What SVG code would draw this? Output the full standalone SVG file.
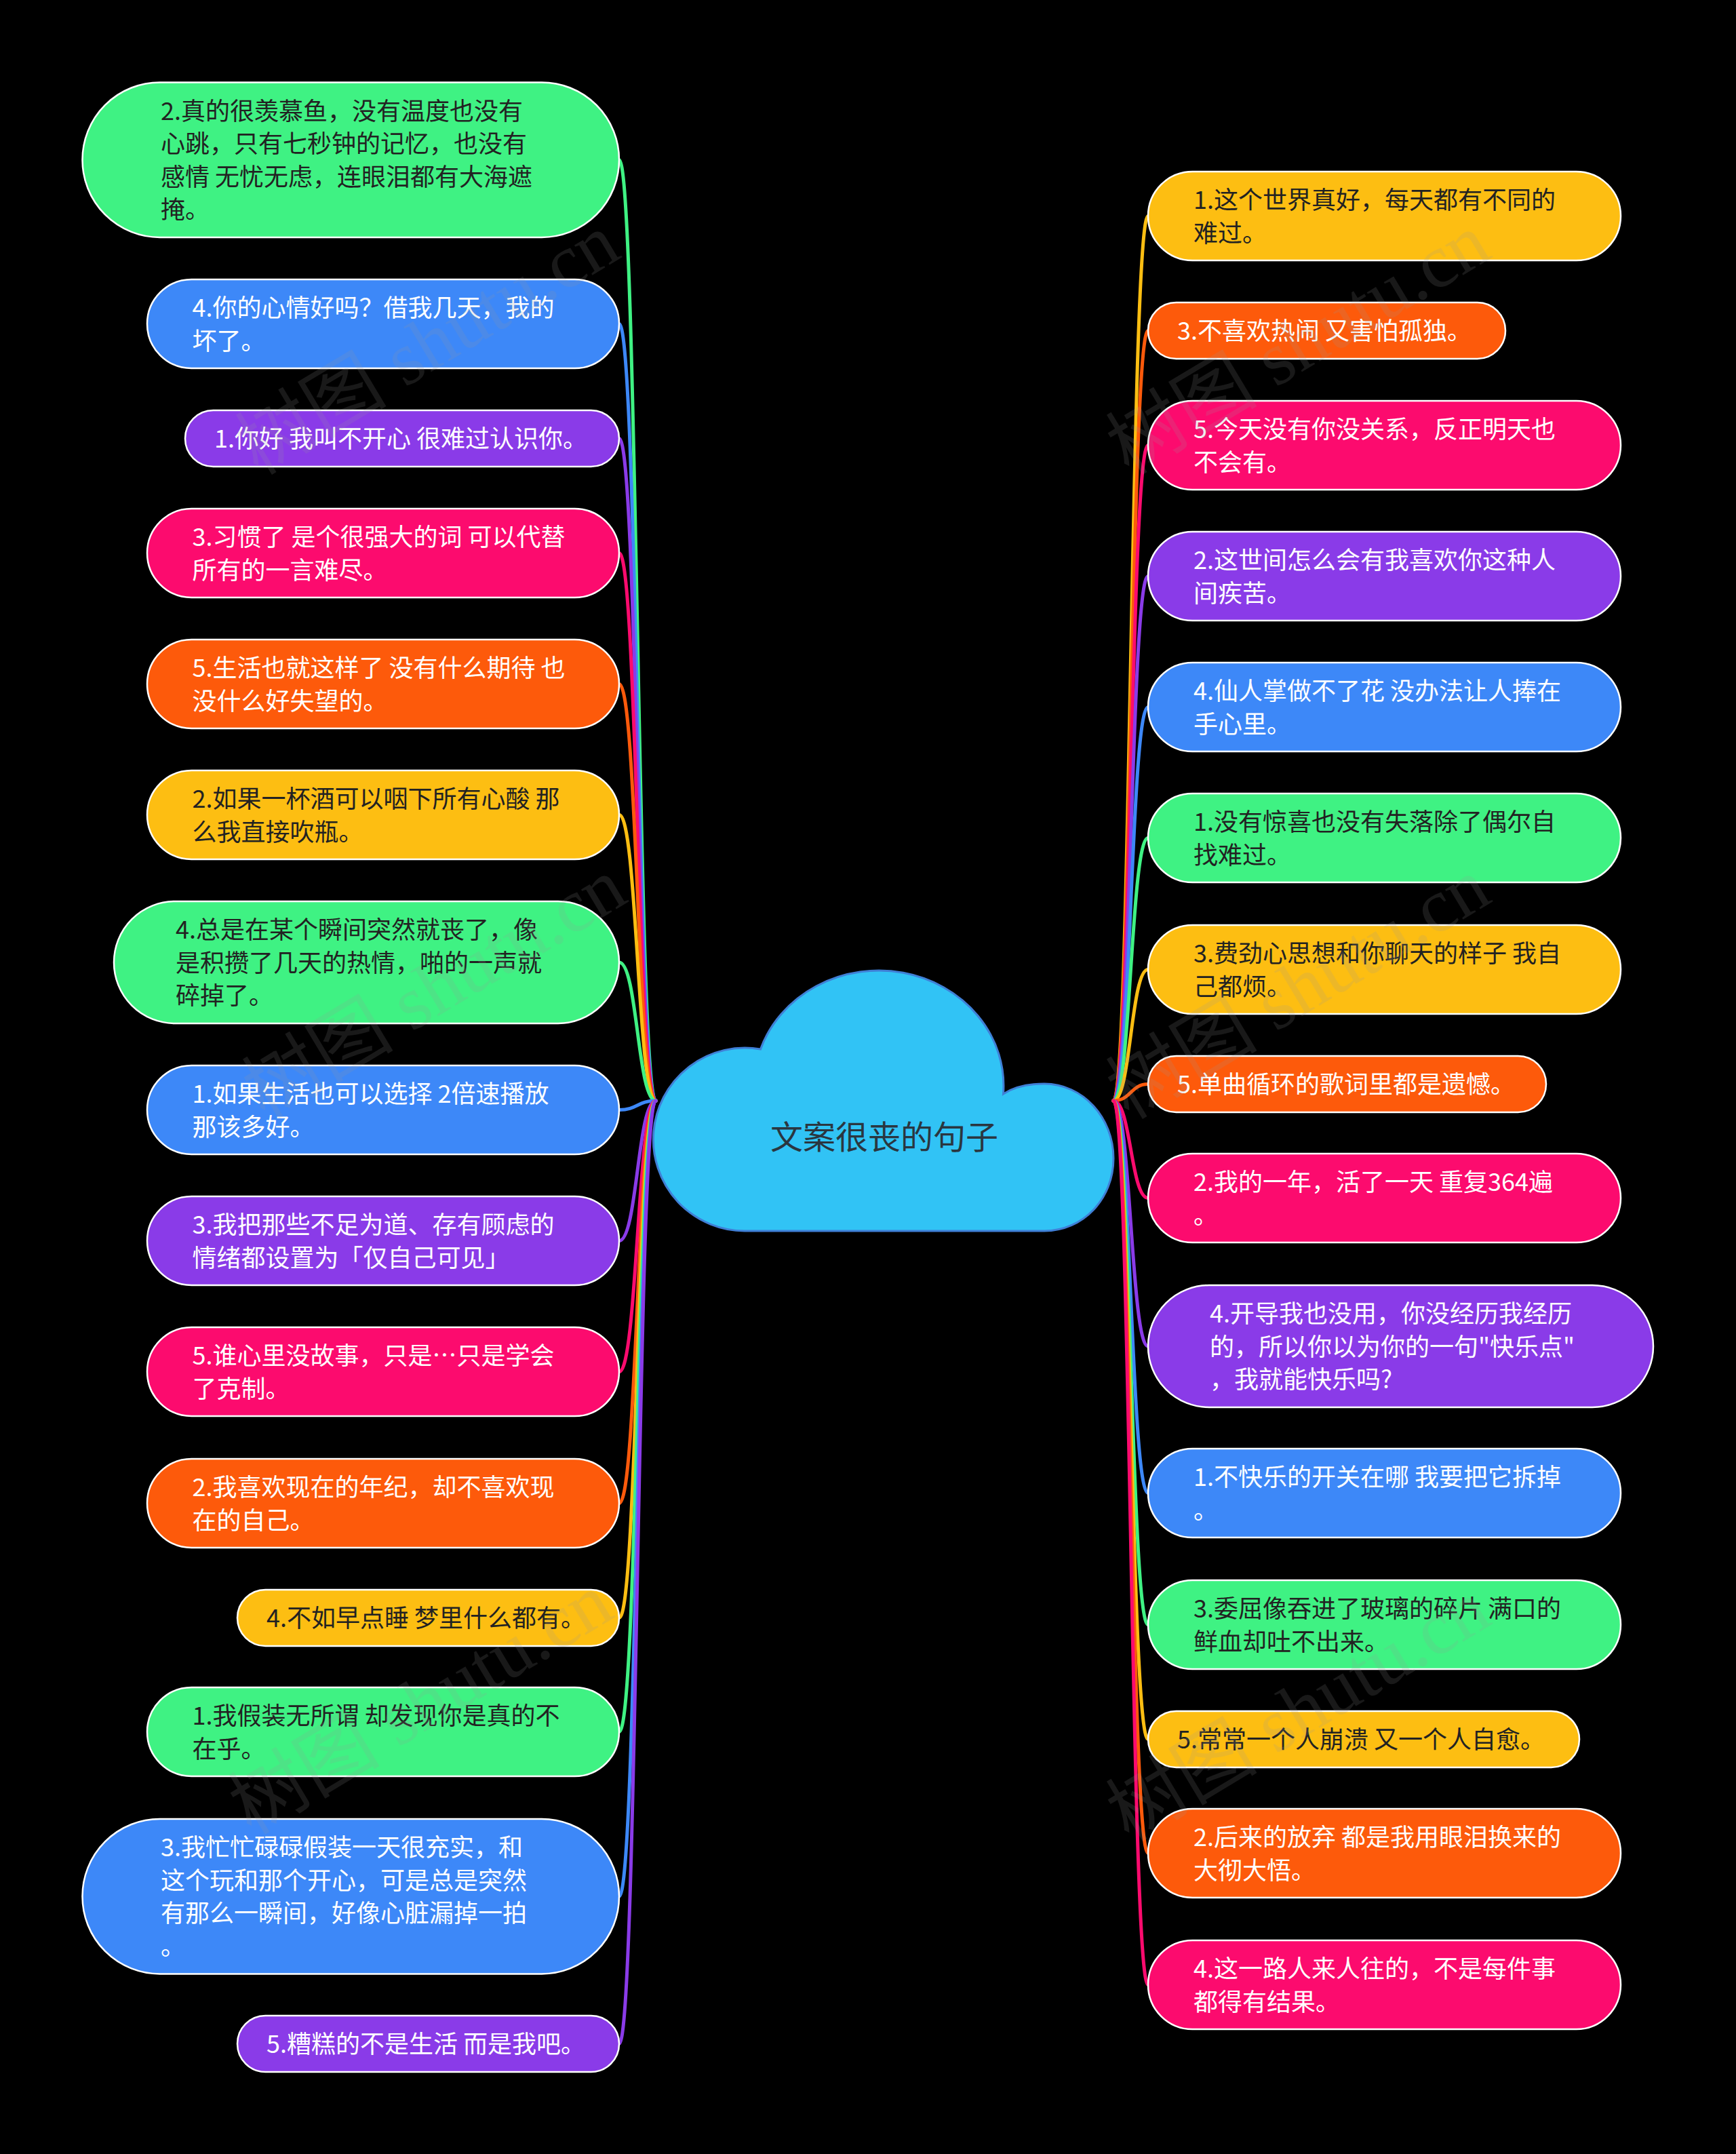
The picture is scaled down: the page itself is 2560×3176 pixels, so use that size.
<svg xmlns="http://www.w3.org/2000/svg" width="2560" height="3176" viewBox="0 0 2560 3176">
<style>
.bg{fill:#000}
.nd{stroke:#fff;stroke-width:2.5}
.t{font-family:"Noto Sans CJK SC","Noto Sans",sans-serif;font-size:36px}
.dk{fill:#222}
.lt{fill:#fff}
.g{fill:#3ff283}.b{fill:#3d88f8}.p{fill:#8a3be8}.k{fill:#fc0b6e}.o{fill:#fd5a0b}.y{fill:#fdbe12}
.c{fill:none;stroke-width:5;stroke-linecap:round}
.cg{stroke:#3ff283}.cb{stroke:#3d88f8}.cp{stroke:#8a3be8}.ck{stroke:#fc0b6e}.co{stroke:#fd5a0b}.cy{stroke:#fdbe12}
.wm{font-family:"Liberation Serif","Noto Sans CJK SC",serif;font-size:112px;fill:#999;opacity:0.16}
</style>
<rect class="bg" x="0" y="0" width="2560" height="3176"/>
<g id="connectors">
<path class="c cg" d="M967 1623 C940 1623 940 235.7 913 235.7"/>
<path class="c cb" d="M967 1623 C940 1623 940 477.5 913 477.5"/>
<path class="c cp" d="M967 1623 C940 1623 940 646.5 913 646.5"/>
<path class="c ck" d="M967 1623 C940 1623 940 815.5 913 815.5"/>
<path class="c co" d="M967 1623 C940 1623 940 1008.5 913 1008.5"/>
<path class="c cy" d="M967 1623 C940 1623 940 1201.5 913 1201.5"/>
<path class="c cg" d="M967 1623 C940 1623 940 1419 913 1419"/>
<path class="c cb" d="M967 1623 C940 1623 940 1636.5 913 1636.5"/>
<path class="c cp" d="M967 1623 C940 1623 940 1829.5 913 1829.5"/>
<path class="c ck" d="M967 1623 C940 1623 940 2022.5 913 2022.5"/>
<path class="c co" d="M967 1623 C940 1623 940 2216.5 913 2216.5"/>
<path class="c cy" d="M967 1623 C940 1623 940 2385.5 913 2385.5"/>
<path class="c cg" d="M967 1623 C940 1623 940 2553.5 913 2553.5"/>
<path class="c cb" d="M967 1623 C940 1623 940 2796 913 2796"/>
<path class="c cp" d="M967 1623 C940 1623 940 3013.5 913 3013.5"/>
<path class="c cy" d="M1642 1623 C1667.5 1623 1667.5 318.5 1693 318.5"/>
<path class="c co" d="M1642 1623 C1667.5 1623 1667.5 487.5 1693 487.5"/>
<path class="c ck" d="M1642 1623 C1667.5 1623 1667.5 656.5 1693 656.5"/>
<path class="c cp" d="M1642 1623 C1667.5 1623 1667.5 849.5 1693 849.5"/>
<path class="c cb" d="M1642 1623 C1667.5 1623 1667.5 1042.5 1693 1042.5"/>
<path class="c cg" d="M1642 1623 C1667.5 1623 1667.5 1235.5 1693 1235.5"/>
<path class="c cy" d="M1642 1623 C1667.5 1623 1667.5 1429.5 1693 1429.5"/>
<path class="c co" d="M1642 1623 C1667.5 1623 1667.5 1598.5 1693 1598.5"/>
<path class="c ck" d="M1642 1623 C1667.5 1623 1667.5 1766.5 1693 1766.5"/>
<path class="c cp" d="M1642 1623 C1667.5 1623 1667.5 1985 1693 1985"/>
<path class="c cb" d="M1642 1623 C1667.5 1623 1667.5 2201.5 1693 2201.5"/>
<path class="c cg" d="M1642 1623 C1667.5 1623 1667.5 2395.5 1693 2395.5"/>
<path class="c cy" d="M1642 1623 C1667.5 1623 1667.5 2564.5 1693 2564.5"/>
<path class="c co" d="M1642 1623 C1667.5 1623 1667.5 2732.5 1693 2732.5"/>
<path class="c ck" d="M1642 1623 C1667.5 1623 1667.5 2926.5 1693 2926.5"/>
</g>
<g id="root">
<path d="M1100 1815 A135 135 0 1 1 1121.5 1547 A184 170 0 0 1 1479.5 1613 C1495 1603 1515 1598 1540 1598 C1597 1598 1642 1648 1642 1708 C1642 1768 1597 1815 1540 1815 Z" fill="#31c3f5" stroke="#3f7fd6" stroke-width="3"/>
<text class="t" x="1304" y="1694" text-anchor="middle" style="font-size:48px" fill="#2a3640">文案很丧的句子</text>
</g>
<g id="L1"><rect class="nd g" x="121.5" y="121.5" width="791.5" height="228.4" rx="114.2"/><text class="t dk" x="237" y="176.5"><tspan x="237">2.真的很羡慕鱼，没有温度也没有</tspan><tspan x="237" dy="48.6">心跳，只有七秒钟的记忆，也没有</tspan><tspan x="237" dy="48.6">感情 无忧无虑，连眼泪都有大海遮</tspan><tspan x="237" dy="48.6">掩。</tspan></text></g>
<g id="L2"><rect class="nd b" x="217" y="412" width="696" height="131" rx="65.5"/><text class="t lt" x="283.5" y="467"><tspan x="283.5">4.你的心情好吗？借我几天，我的</tspan><tspan x="283.5" dy="48.6">坏了。</tspan></text></g>
<g id="L3"><rect class="nd p" x="273" y="605" width="640" height="83" rx="41.5"/><text class="t lt" x="316" y="659.5">1.你好 我叫不开心 很难过认识你。</text></g>
<g id="L4"><rect class="nd k" x="217" y="750" width="696" height="131" rx="65.5"/><text class="t lt" x="283.5" y="805"><tspan x="283.5">3.习惯了 是个很强大的词 可以代替</tspan><tspan x="283.5" dy="48.6">所有的一言难尽。</tspan></text></g>
<g id="L5"><rect class="nd o" x="217" y="943" width="696" height="131" rx="65.5"/><text class="t lt" x="283.5" y="998"><tspan x="283.5">5.生活也就这样了 没有什么期待 也</tspan><tspan x="283.5" dy="48.6">没什么好失望的。</tspan></text></g>
<g id="L6"><rect class="nd y" x="217" y="1136" width="696" height="131" rx="65.5"/><text class="t dk" x="283.5" y="1191"><tspan x="283.5">2.如果一杯酒可以咽下所有心酸 那</tspan><tspan x="283.5" dy="48.6">么我直接吹瓶。</tspan></text></g>
<g id="L7"><rect class="nd g" x="168" y="1329" width="745" height="180" rx="90"/><text class="t dk" x="259" y="1384"><tspan x="259">4.总是在某个瞬间突然就丧了，像</tspan><tspan x="259" dy="48.6">是积攒了几天的热情，啪的一声就</tspan><tspan x="259" dy="48.6">碎掉了。</tspan></text></g>
<g id="L8"><rect class="nd b" x="217" y="1571" width="696" height="131" rx="65.5"/><text class="t lt" x="283.5" y="1626"><tspan x="283.5">1.如果生活也可以选择 2倍速播放</tspan><tspan x="283.5" dy="48.6">那该多好。</tspan></text></g>
<g id="L9"><rect class="nd p" x="217" y="1764" width="696" height="131" rx="65.5"/><text class="t lt" x="283.5" y="1819"><tspan x="283.5">3.我把那些不足为道、存有顾虑的</tspan><tspan x="283.5" dy="48.6">情绪都设置为「仅自己可见」</tspan></text></g>
<g id="L10"><rect class="nd k" x="217" y="1957" width="696" height="131" rx="65.5"/><text class="t lt" x="283.5" y="2012"><tspan x="283.5">5.谁心里没故事，只是…只是学会</tspan><tspan x="283.5" dy="48.6">了克制。</tspan></text></g>
<g id="L11"><rect class="nd o" x="217" y="2151" width="696" height="131" rx="65.5"/><text class="t lt" x="283.5" y="2206"><tspan x="283.5">2.我喜欢现在的年纪，却不喜欢现</tspan><tspan x="283.5" dy="48.6">在的自己。</tspan></text></g>
<g id="L12"><rect class="nd y" x="350" y="2344" width="563" height="83" rx="41.5"/><text class="t dk" x="393" y="2398.5">4.不如早点睡 梦里什么都有。</text></g>
<g id="L13"><rect class="nd g" x="217" y="2488" width="696" height="131" rx="65.5"/><text class="t dk" x="283.5" y="2543"><tspan x="283.5">1.我假装无所谓 却发现你是真的不</tspan><tspan x="283.5" dy="48.6">在乎。</tspan></text></g>
<g id="L14"><rect class="nd b" x="121.5" y="2682" width="791.5" height="228.4" rx="114.2"/><text class="t lt" x="237" y="2737"><tspan x="237">3.我忙忙碌碌假装一天很充实，和</tspan><tspan x="237" dy="48.6">这个玩和那个开心，可是总是突然</tspan><tspan x="237" dy="48.6">有那么一瞬间，好像心脏漏掉一拍</tspan><tspan x="237" dy="48.6">。</tspan></text></g>
<g id="L15"><rect class="nd p" x="350" y="2972" width="563" height="83" rx="41.5"/><text class="t lt" x="393" y="3026.5">5.糟糕的不是生活 而是我吧。</text></g>
<g id="R1"><rect class="nd y" x="1693" y="253" width="697" height="131" rx="65.5"/><text class="t dk" x="1760" y="308"><tspan x="1760">1.这个世界真好，每天都有不同的</tspan><tspan x="1760" dy="48.6">难过。</tspan></text></g>
<g id="R2"><rect class="nd o" x="1693" y="446" width="527" height="83" rx="41.5"/><text class="t lt" x="1736" y="500.5">3.不喜欢热闹 又害怕孤独。</text></g>
<g id="R3"><rect class="nd k" x="1693" y="591" width="697" height="131" rx="65.5"/><text class="t lt" x="1760" y="646"><tspan x="1760">5.今天没有你没关系，反正明天也</tspan><tspan x="1760" dy="48.6">不会有。</tspan></text></g>
<g id="R4"><rect class="nd p" x="1693" y="784" width="697" height="131" rx="65.5"/><text class="t lt" x="1760" y="839"><tspan x="1760">2.这世间怎么会有我喜欢你这种人</tspan><tspan x="1760" dy="48.6">间疾苦。</tspan></text></g>
<g id="R5"><rect class="nd b" x="1693" y="977" width="697" height="131" rx="65.5"/><text class="t lt" x="1760" y="1032"><tspan x="1760">4.仙人掌做不了花 没办法让人捧在</tspan><tspan x="1760" dy="48.6">手心里。</tspan></text></g>
<g id="R6"><rect class="nd g" x="1693" y="1170" width="697" height="131" rx="65.5"/><text class="t dk" x="1760" y="1225"><tspan x="1760">1.没有惊喜也没有失落除了偶尔自</tspan><tspan x="1760" dy="48.6">找难过。</tspan></text></g>
<g id="R7"><rect class="nd y" x="1693" y="1364" width="697" height="131" rx="65.5"/><text class="t dk" x="1760" y="1419"><tspan x="1760">3.费劲心思想和你聊天的样子 我自</tspan><tspan x="1760" dy="48.6">己都烦。</tspan></text></g>
<g id="R8"><rect class="nd o" x="1693" y="1557" width="587" height="83" rx="41.5"/><text class="t lt" x="1736" y="1611.5">5.单曲循环的歌词里都是遗憾。</text></g>
<g id="R9"><rect class="nd k" x="1693" y="1701" width="697" height="131" rx="65.5"/><text class="t lt" x="1760" y="1756"><tspan x="1760">2.我的一年，活了一天 重复364遍</tspan><tspan x="1760" dy="48.6">。</tspan></text></g>
<g id="R10"><rect class="nd p" x="1693" y="1895" width="745" height="180" rx="90"/><text class="t lt" x="1784" y="1950"><tspan x="1784">4.开导我也没用，你没经历我经历</tspan><tspan x="1784" dy="48.6">的，所以你以为你的一句"快乐点"</tspan><tspan x="1784" dy="48.6">，我就能快乐吗?</tspan></text></g>
<g id="R11"><rect class="nd b" x="1693" y="2136" width="697" height="131" rx="65.5"/><text class="t lt" x="1760" y="2191"><tspan x="1760">1.不快乐的开关在哪 我要把它拆掉</tspan><tspan x="1760" dy="48.6">。</tspan></text></g>
<g id="R12"><rect class="nd g" x="1693" y="2330" width="697" height="131" rx="65.5"/><text class="t dk" x="1760" y="2385"><tspan x="1760">3.委屈像吞进了玻璃的碎片 满口的</tspan><tspan x="1760" dy="48.6">鲜血却吐不出来。</tspan></text></g>
<g id="R13"><rect class="nd y" x="1693" y="2523" width="636" height="83" rx="41.5"/><text class="t dk" x="1736" y="2577.5">5.常常一个人崩溃 又一个人自愈。</text></g>
<g id="R14"><rect class="nd o" x="1693" y="2667" width="697" height="131" rx="65.5"/><text class="t lt" x="1760" y="2722"><tspan x="1760">2.后来的放弃 都是我用眼泪换来的</tspan><tspan x="1760" dy="48.6">大彻大悟。</tspan></text></g>
<g id="R15"><rect class="nd k" x="1693" y="2861" width="697" height="131" rx="65.5"/><text class="t lt" x="1760" y="2916"><tspan x="1760">4.这一路人来人往的，不是每件事</tspan><tspan x="1760" dy="48.6">都得有结果。</tspan></text></g>
<g id="watermarks">
<text class="wm" text-anchor="middle" transform="translate(650 540) rotate(-31)">树图 shutu.cn</text>
<text class="wm" text-anchor="middle" transform="translate(1934 540) rotate(-31)">树图 shutu.cn</text>
<text class="wm" text-anchor="middle" transform="translate(660 1490) rotate(-31)">树图 shutu.cn</text>
<text class="wm" text-anchor="middle" transform="translate(1934 1490) rotate(-31)">树图 shutu.cn</text>
<text class="wm" text-anchor="middle" transform="translate(640 2545) rotate(-31)">树图 shutu.cn</text>
<text class="wm" text-anchor="middle" transform="translate(1934 2555) rotate(-31)">树图 shutu.cn</text>
</g>
</svg>
